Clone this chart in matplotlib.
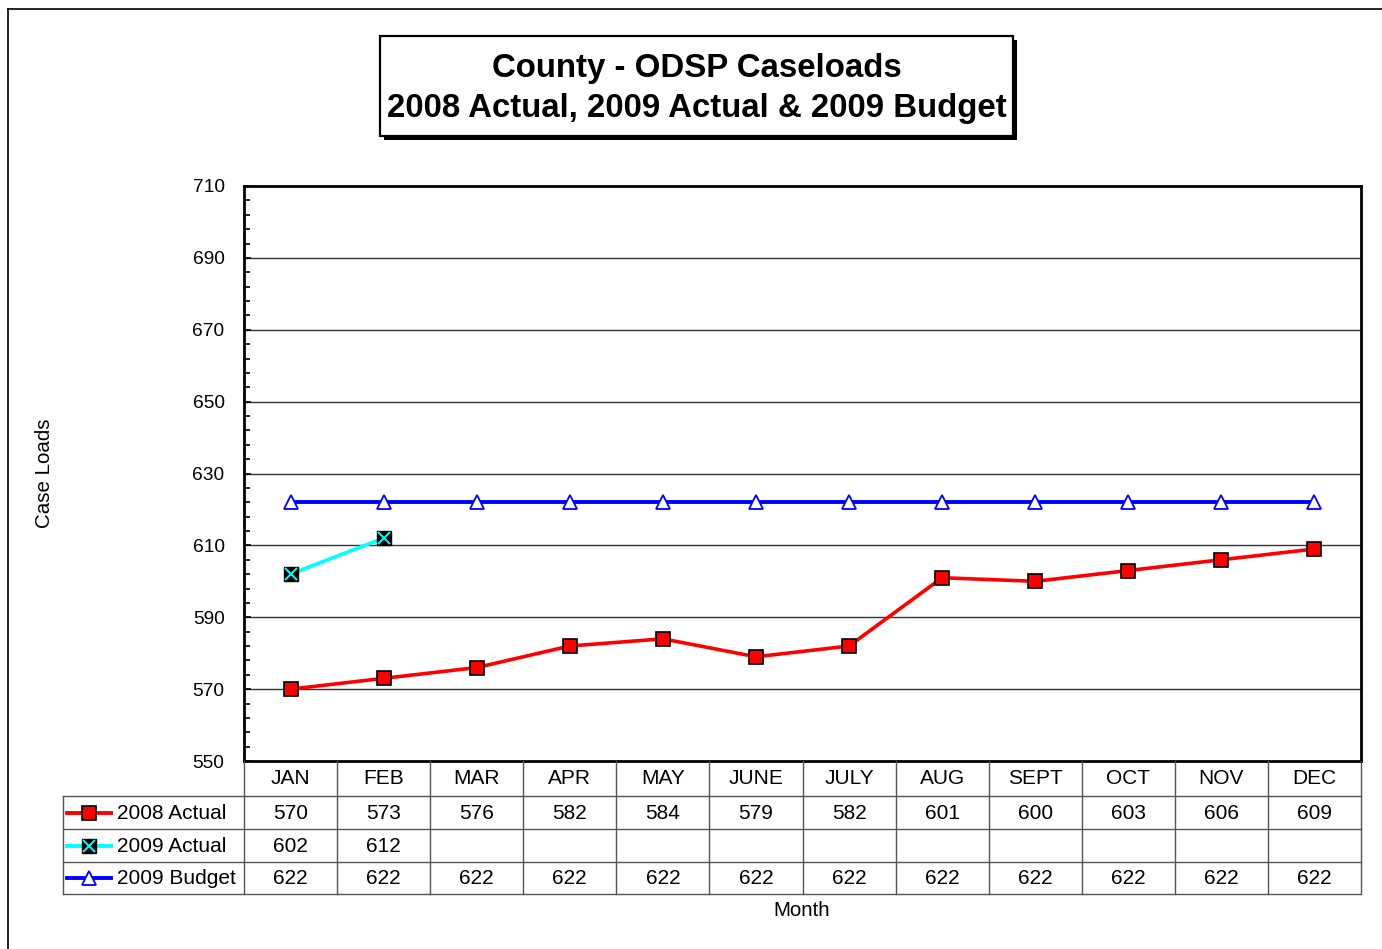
import matplotlib
matplotlib.use("Agg")
import matplotlib.pyplot as plt
from matplotlib.lines import Line2D
from matplotlib.patches import Rectangle

plt.rcParams["font.family"] = ["Liberation Sans", "DejaVu Sans"]

# ── data ──
months = ["JAN", "FEB", "MAR", "APR", "MAY", "JUNE", "JULY", "AUG", "SEPT", "OCT", "NOV", "DEC"]
actual_2008 = [570, 573, 576, 582, 584, 579, 582, 601, 600, 603, 606, 609]
actual_2009 = [602, 612]
budget_2009 = [622, 622, 622, 622, 622, 622, 622, 622, 622, 622, 622, 622]
series_names = ["2008 Actual", "2009 Actual", "2009 Budget"]

W, H = 1382, 949
fig = plt.figure(figsize=(W / 100, H / 100), dpi=100)


def fx(x):
    return x / W


def fy(y):
    return 1 - y / H


# plot area in pixels
L, R, T, B = 244, 1361, 186, 761
ax = fig.add_axes([fx(L), fy(B), fx(R) - fx(L), fy(T) - fy(B)])

x = list(range(len(months)))
n09 = len(actual_2009)

ax.plot(x, actual_2008, color="#ff0000", lw=2.6, marker="s", ms=10,
        mfc="#ff0000", mec="black", mew=1.2, zorder=4)
ax.plot(x[:n09], actual_2009, color="#00ffff", lw=2.6, zorder=4)
# black square with a cyan cross
ax.plot(x[:n09], actual_2009, ls="none", marker="s", ms=10,
        mfc="black", mec="black", zorder=5)
ax.plot(x[:n09], actual_2009, ls="none", marker="x", ms=9,
        mec="#00ffff", mew=1.4, zorder=6)
ax.plot(x, budget_2009, color="#0000ff", lw=2.8, marker="^", ms=10,
        mfc="white", mec="#0000ff", mew=1.3, zorder=3)

ax.set_xlim(-0.5, len(months) - 0.5)
ax.set_ylim(550, 710)
ax.set_yticks(range(550, 711, 20))
ax.set_yticks(range(550, 711, 4), minor=True)
ax.set_xticks([])
ax.tick_params(axis="y", which="both", direction="in", labelsize=13.8, pad=14)
ax.tick_params(axis="y", which="major", length=5, width=1.2)
ax.tick_params(axis="y", which="minor", length=4, width=1.2)
for v in range(570, 710, 20):
    ax.axhline(v, color="#333333", lw=1.0, zorder=1)
for s in ax.spines.values():
    s.set_linewidth(2.0)

fig.text(fx(45), fy(473), "Case Loads", rotation=90, ha="center", va="center", fontsize=14.8)

# ── data table under the plot ──
col_w = (R - L) / len(months)
rows_y = [761, 796, 829, 862, 894]
gray = "#555555"


def hline(x0, x1, y, lw=1.0, c=gray):
    fig.add_artist(Line2D([fx(x0), fx(x1)], [fy(y), fy(y)], color=c, lw=lw))


def vline(xp, y0, y1, lw=1.0, c=gray):
    fig.add_artist(Line2D([fx(xp), fx(xp)], [fy(y0), fy(y1)], color=c, lw=lw))


for y in rows_y[1:]:
    hline(63, R, y)
vline(63, rows_y[1], rows_y[-1])
for i in range(len(months) + 1):
    vline(L + i * col_w, rows_y[0], rows_y[-1])

for i, m in enumerate(months):
    cx = L + (i + 0.5) * col_w
    fig.text(fx(cx), fy((rows_y[0] + rows_y[1]) / 2), m, ha="center", va="center", fontsize=15)

table_rows = [actual_2008, actual_2009, budget_2009]
key_colors = ["#ff0000", "#00ffff", "#0000ff"]
for r, vals in enumerate(table_rows):
    cy = (rows_y[r + 1] + rows_y[r + 2]) / 2 + 1
    for i, v in enumerate(vals):
        cx = L + (i + 0.5) * col_w
        fig.text(fx(cx), fy(cy), str(v), ha="center", va="center", fontsize=15)
    # legend key
    ly = fy(cy - 1)
    fig.add_artist(Line2D([fx(67), fx(111)], [ly, ly], color=key_colors[r], lw=2.8))
    if r == 0:
        fig.add_artist(Line2D([fx(89)], [ly], marker="s", ms=10, mfc="#ff0000", mec="black", mew=1.2))
    elif r == 1:
        fig.add_artist(Line2D([fx(89)], [ly], marker="s", ms=10, mfc="black", mec="black"))
        fig.add_artist(Line2D([fx(89)], [ly], marker="x", ms=9, mec="#00ffff", mew=1.4))
    else:
        fig.add_artist(Line2D([fx(89)], [ly], marker="^", ms=10, mfc="white", mec="#0000ff", mew=1.3))
    fig.text(fx(117), fy(cy), series_names[r], ha="left", va="center", fontsize=15)

fig.text(fx(802), fy(910), "Month", ha="center", va="center", fontsize=14.8)

# ── title box with drop shadow ──
bx0, by0, bx1, by1 = 380, 36, 1013, 136
fig.add_artist(Rectangle((fx(bx0 + 4), fy(by1 + 4)), fx(bx1 - bx0), fy(by0) - fy(by1),
                         facecolor="black", edgecolor="black", lw=0))
fig.add_artist(Rectangle((fx(bx0), fy(by1)), fx(bx1 - bx0), fy(by0) - fy(by1),
                         facecolor="white", edgecolor="black", lw=1.6))
fig.text(fx((bx0 + bx1) / 2), fy(68), "County - ODSP Caseloads", ha="center", va="center",
         fontsize=23.8, fontweight="bold")
fig.text(fx((bx0 + bx1) / 2), fy(108), "2008 Actual, 2009 Actual & 2009 Budget", ha="center",
         va="center", fontsize=23.8, fontweight="bold")

# outer chart frame
fig.add_artist(Line2D([fx(8), fx(8)], [fy(9), 0], color="black", lw=1.2))
fig.add_artist(Line2D([fx(8), 1], [fy(9), fy(9)], color="black", lw=1.2))

fig.savefig("out.png", dpi=100)
